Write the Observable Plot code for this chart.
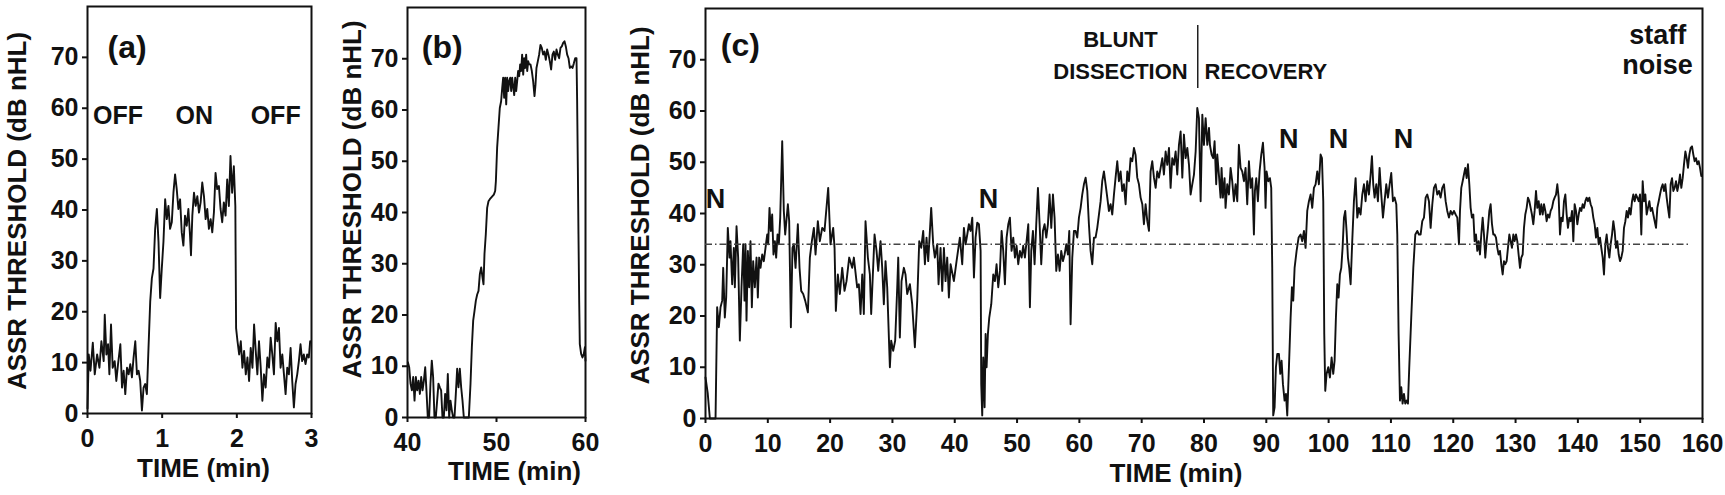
<!DOCTYPE html>
<html>
<head>
<meta charset="utf-8">
<script src="https://cdn.jsdelivr.net/npm/d3@7"></script>
<script src="https://cdn.jsdelivr.net/npm/@observablehq/plot@0.6"></script>
<style>
  html, body { margin: 0; padding: 0; background: #fff; }
  #chart { position: relative; width: 1725px; height: 495px; background: #fff; overflow: hidden; }
  #chart svg { position: absolute; top: 0; }
</style>
</head>
<body>
<div id="chart"></div>
<script>
// ---------- DATA ----------
const yTicks = [0, 10, 20, 30, 40, 50, 60, 70];
const aTicks = [0, 1, 2, 3];
const bTicks = [40, 50, 60];
const cTicks = [0, 10, 20, 30, 40, 50, 60, 70, 80, 90, 100, 110, 120, 130, 140, 150, 160];

// (a) anaesthesia OFF / ON / OFF
const aTime = [0,0.017,0.040,0.071,0.097,0.129,0.160,0.186,0.217,0.231,0.253,0.275,0.293,0.315,0.337,0.364,0.386,0.409,0.440,0.462,0.484,0.506,0.529,0.551,0.573,0.595,0.617,0.640,0.662,0.684,0.706,0.729,0.751,0.773,0.795,0.817,0.840,0.862,0.884,0.906,0.929,0.951,0.973,0.995,1.017,1.040,1.062,1.084,1.106,1.129,1.151,1.173,1.195,1.217,1.240,1.262,1.284,1.306,1.329,1.351,1.373,1.386,1.404,1.426,1.449,1.471,1.493,1.515,1.537,1.560,1.582,1.604,1.626,1.649,1.671,1.693,1.715,1.737,1.760,1.782,1.804,1.826,1.849,1.871,1.893,1.915,1.937,1.960,1.980,1.990,2.009,2.031,2.053,2.075,2.097,2.120,2.142,2.164,2.186,2.209,2.231,2.253,2.275,2.297,2.320,2.342,2.364,2.386,2.409,2.431,2.453,2.475,2.497,2.520,2.542,2.564,2.586,2.609,2.631,2.653,2.675,2.697,2.720,2.742,2.764,2.786,2.809,2.831,2.853,2.875,2.897,2.920,2.942,2.964,2.982];
const aThreshold = [1,11.6,8.4,13.9,7.7,11.6,9,14.2,10.3,19.4,11.6,13.6,7.7,17.5,9,10.3,6.4,9.7,13.6,5.1,8.4,3.8,9,7.7,9.7,7.1,11,14.2,7.7,8.4,6.4,0.6,5.1,5.8,3.8,12.9,22,26.6,28.5,36.3,40.2,33.7,22.7,28.5,33.7,42.1,38.2,40.8,36.3,37.6,43.4,47,44.1,40.2,42.1,35.6,33,38.9,36.9,40.2,35,31.1,38.9,43.4,40.8,42.7,39.5,41.5,45.4,42.7,38.2,40.2,36.3,38.2,35.6,39.5,47.3,44.1,44.7,40.2,37.6,41.5,38.9,46,40.8,50.6,43.4,48.6,40.8,16.8,14.2,11.6,14.2,9,12.3,7.7,11,6.4,12.9,9,17.5,12.3,7.7,14.2,9,2.5,7.7,5.1,11,9,14.9,11.6,7.7,17.8,14.2,16.8,9,11.6,7.7,3.8,9,7.7,12.9,6.4,1.2,5.8,7.7,10.3,13.6,10.3,11.6,9.7,11.6,11,14.2];
const aNotes = ["OFF", "ON", "OFF"];
const aNoteTime = [0.41, 1.43, 2.52];
const aNoteLevel = [58.4, 58.4, 58.4];

// (b)
const bTime = [40.04,40.19,40.34,40.49,40.64,40.79,40.94,41.09,41.24,41.39,41.54,41.69,41.84,41.99,42.13,42.28,42.43,42.58,42.73,42.88,43.03,43.18,43.33,43.48,43.63,43.78,43.93,44.08,44.23,44.38,44.53,44.68,44.83,44.98,45.13,45.28,45.43,45.58,45.73,45.88,46.03,46.18,46.33,46.52,46.70,46.89,47.08,47.23,47.38,47.53,47.68,47.83,47.98,48.13,48.28,48.43,48.54,48.65,48.80,48.95,49.10,49.25,49.40,49.55,49.70,49.85,49.93,50.07,50.22,50.37,50.52,50.64,50.75,50.86,50.97,51.09,51.20,51.31,51.42,51.54,51.65,51.76,51.87,51.99,52.10,52.21,52.32,52.43,52.55,52.66,52.77,52.88,53.00,53.11,53.22,53.33,53.45,53.56,53.67,53.82,53.97,54.12,54.27,54.38,54.49,54.64,54.79,54.94,55.09,55.24,55.39,55.54,55.69,55.84,55.99,56.14,56.29,56.44,56.59,56.74,56.89,57.04,57.19,57.34,57.49,57.64,57.79,57.94,58.09,58.24,58.39,58.54,58.69,58.84,58.99,59.06,59.14,59.21,59.29,59.36,59.51,59.66,59.81,59.93,60.0];
const bThreshold = [10.8,9.8,6.6,5.3,7.9,3.3,7.9,5.3,7.2,4.6,7.9,5.3,7.2,9.8,5.3,0,0,6.6,11.1,7.9,0,0,3.3,6.6,5.9,5.3,0,0,4.6,1.4,8.5,0,3.3,1.4,0,0,4.6,9.5,5.9,9.5,5.9,3.3,0,0,0,0,6.6,13.7,18.9,20.8,22.8,24,24.7,28,29.3,27.3,26,31.9,35.8,40.9,42.2,42.6,42.9,43.2,43.5,44.2,46.1,52.6,56.5,60.4,61.7,64.3,66.3,62.4,66.3,61.1,66.3,63.7,65.6,66.3,63.7,66.3,64.6,62.9,66.3,63.7,65.6,67.6,66.6,68.9,67.6,70.8,66.9,70.1,68.2,70.8,67.6,69.5,68.9,68.9,67.6,65.6,62.7,64.9,68.2,69.5,70.8,72.7,72.1,70.8,71.4,69.8,71.8,70.8,69.5,67.9,70.8,71.4,69.8,71.8,70.8,70.1,72.1,72.4,73.1,73.4,72.4,70.8,70.1,68.2,68.5,68.2,69.1,70.1,70.1,61.7,48.7,35.8,22.8,14.3,12.4,11.7,12.4,13.7,11.1];

// (c)
const cTime = [0,0.35,0.70,1.61,1.87,2.14,2.41,2.68,2.84,3.10,3.32,3.58,3.85,4.01,4.28,4.55,4.71,4.98,5.24,5.51,5.78,6.05,6.26,6.42,6.58,6.80,7.01,7.22,7.44,7.65,7.92,8.19,8.40,8.61,8.83,9.10,9.36,9.63,9.90,10.06,10.27,10.49,10.70,10.91,11.13,11.34,11.56,11.77,11.99,12.31,12.57,12.79,13.22,13.43,13.70,13.96,14.18,14.45,14.82,15.09,15.36,15.68,16.00,16.43,16.75,17.07,17.39,17.66,18.03,18.35,18.73,19.10,19.69,20.06,20.49,20.71,20.92,21.24,21.56,21.94,22.31,22.63,23.06,23.54,23.81,24.34,24.61,24.88,25.15,25.41,25.68,26.06,26.38,26.59,27.13,27.45,27.72,28.09,28.36,28.62,28.89,29.16,29.59,29.80,30.12,30.44,30.77,30.93,31.19,31.46,31.83,32.10,32.37,32.80,33.17,33.60,33.98,34.30,34.62,34.94,35.21,35.47,35.74,36.22,36.54,36.81,37.19,37.40,37.72,37.99,38.26,38.52,38.79,39.06,39.33,39.86,40.29,40.82,
41.20,41.47,41.74,42.01,42.27,42.54,42.81,43.08,43.34,43.61,43.88,44.15,44.25,44.41,44.57,44.79,44.95,45.11,45.32,45.54,45.86,46.18,46.45,46.71,46.98,47.25,47.52,47.78,48.05,48.32,48.59,48.85,49.12,49.39,49.66,49.92,50.19,50.46,50.73,50.99,51.26,51.53,51.80,52.06,52.28,52.55,52.81,53.08,53.35,53.62,53.88,54.15,54.42,54.69,54.95,55.22,55.49,55.76,56.02,56.29,56.56,56.83,57.09,57.36,57.63,57.90,58.16,58.38,58.59,58.86,59.13,59.39,59.66,59.93,60.20,60.46,60.73,61.00,61.27,61.53,61.80,62.07,62.34,62.60,62.87,63.14,63.41,63.67,63.94,64.21,64.48,64.74,65.01,65.28,65.55,65.81,66.08,66.35,66.62,66.88,67.15,67.42,67.69,67.95,68.22,68.49,68.76,69.02,69.29,69.56,69.83,70.10,70.36,70.63,70.90,71.17,71.43,71.70,71.97,72.24,72.50,72.77,73.04,73.31,73.57,73.84,74.11,74.38,74.64,74.91,75.18,75.45,75.71,75.98,76.25,76.52,76.78,77.05,77.32,77.59,77.85,78.12,78.39,78.66,78.92,79.19,79.46,79.73,79.99,80.26,80.53,80.80,
80.95,81.22,81.48,81.70,81.96,82.13,82.39,82.66,82.82,83.03,83.30,83.46,83.73,84.00,84.27,84.53,84.80,85.07,85.34,85.60,85.87,86.14,86.41,86.67,86.94,87.21,87.48,87.74,88.01,88.17,88.39,88.65,88.92,89.19,89.46,89.72,89.88,90.04,90.31,90.58,90.79,90.95,91.11,91.33,91.54,91.76,92.02,92.24,92.45,92.67,92.93,93.15,93.36,93.63,93.90,94.11,94.32,94.54,94.86,95.18,95.50,95.77,96.04,96.30,96.57,96.84,97.11,97.37,97.64,97.91,98.18,98.44,98.71,98.93,99.14,99.30,99.46,99.67,99.94,100.21,100.48,100.74,100.96,101.17,101.39,101.60,101.81,102.03,102.24,102.46,102.67,102.88,103.10,103.31,103.53,103.79,104.06,104.33,104.60,104.86,105.13,105.40,105.67,105.93,106.20,106.47,106.74,106.95,107.16,107.38,107.65,107.91,108.18,108.45,108.72,108.98,109.25,109.52,109.79,110.05,110.32,110.59,110.86,111.02,111.23,111.45,111.66,111.87,112.09,112.30,112.52,112.73,112.94,113.26,113.59,113.91,114.23,114.49,114.76,115.03,115.30,115.57,115.83,116.10,116.37,116.64,116.90,117.17,117.44,117.71,117.97,118.24,118.51,118.78,119.04,119.31,119.58,119.85,120.11,120.38,120.65,120.92,
121.08,121.29,121.51,121.72,121.93,122.15,122.36,122.58,122.79,123.00,123.22,123.43,123.65,123.86,124.07,124.29,124.50,124.72,124.93,125.14,125.36,125.57,125.79,126.00,126.21,126.43,126.64,126.86,127.07,127.28,127.50,127.71,127.93,128.14,128.35,128.57,128.78,129.00,129.21,129.42,129.64,129.85,130.07,130.28,130.49,130.71,130.92,131.14,131.35,131.56,131.78,131.99,132.21,132.42,132.63,132.85,133.06,133.28,133.49,133.71,133.92,134.13,134.35,134.56,134.78,134.99,135.20,135.42,135.63,135.85,136.06,136.27,136.49,136.70,136.92,137.13,137.34,137.56,137.77,137.99,138.20,138.41,138.63,138.84,139.06,139.27,139.48,139.70,139.91,140.13,140.34,140.55,140.77,140.98,141.20,141.41,141.62,141.84,142.05,142.27,142.48,142.69,142.91,143.12,143.34,143.55,143.76,143.98,144.19,144.41,144.62,144.83,145.05,145.26,145.48,145.69,145.90,146.12,146.33,146.55,146.76,146.97,147.19,147.40,147.62,147.83,148.04,148.26,148.47,148.69,148.90,149.11,149.33,149.54,149.76,149.97,150.18,150.40,150.61,150.83,151.04,151.25,151.47,151.68,151.90,152.11,152.32,152.54,152.75,152.97,153.18,153.40,153.61,153.82,154.04,154.25,154.46,154.68,154.89,155.11,155.32,155.53,155.75,155.96,156.18,156.39,156.60,156.82,157.03,157.25,157.46,157.67,157.89,158.10,158.32,158.53,158.74,158.96,159.17,159.39,159.60,159.81];
const cThreshold = [8,5,0,0,21.7,17.8,21.7,23,29.4,19.7,23.6,37.2,31.4,34.6,26.2,33.3,25.6,37.5,31.4,15.2,25.6,34,23,34,19.1,32.7,25.6,34.6,21.7,30.7,25.6,31.4,23.6,31.4,29.4,32,30.7,33.3,35.9,34,41.1,36.6,39.8,32,34.6,31.4,35.9,34,39.2,54.1,40.5,35.9,41.8,38.5,17.8,33.3,34,29.4,37.9,29.4,24.9,24.3,23,20.7,31.4,34.6,37.2,32,38.5,34.6,37.2,36.6,45,34,37.2,33.3,21,28.1,24.3,29.4,24.9,26.8,31.4,29.4,31.4,25.6,26.2,20.4,28.1,20.4,38.5,31.4,28.1,20.4,35.9,32.7,28.8,34.6,29.4,22.3,30.7,25.6,10,15.2,13.2,15.2,25.6,31.4,15.8,26.8,29.4,28.1,24.3,26.2,22.3,13.9,23,34.6,33.3,36.6,30.1,35.3,30.7,41.1,34,31.4,34,26.2,33.3,24.9,33.3,26.8,31.4,23.6,30.1,26.8,30.7,35.3,
30.1,37.2,34,35.9,37.9,36.6,39.2,27.5,35.3,38.2,37.9,32.7,6.7,0.6,11.9,2.2,16.5,10,16.5,19.7,22.3,28.1,26.8,30.1,25.6,28.8,36.6,32.7,26.2,35.3,37.9,39.2,32.7,35.3,31.4,33.7,30.1,32.7,31.4,33.7,31.4,34.6,37.9,21.7,32.7,36.6,30.1,37.9,45,37.9,30.1,36.6,37.9,35.3,37.9,43.7,37.2,43.7,39.2,28.8,32,28.8,32.7,30.7,32,34,32,36.6,18.4,31.4,36.6,36.6,35.3,39.2,41.1,43.7,45.7,47,44.4,37.9,32.7,30.1,35.3,35.3,37.2,39.8,42.4,46.3,48.2,45.7,43.1,40.5,41.8,39.8,43.7,47,50.2,46.3,48.2,44.4,45.7,41.8,48.2,46.3,50.8,50.2,52.8,51.4,47,45.7,43.1,41.8,37.9,41.8,38.5,36.6,48.2,50.2,47,45,48.2,47,48.9,50.8,47.6,52.1,49.5,52.8,45,50.8,49.5,52.1,47.6,53.4,56,47,55.4,50.8,52.8,49.5,43.7,45.7,47.6,52.1,60.6,58.6,42.4,59.3,53.4,58.6,53.4,56.7,
53.4,51.5,50.8,54.1,45.7,51.5,47.6,43.1,48.9,43.1,46.9,41.1,45.7,43.7,48.9,46.3,42.4,45.7,42.4,53.4,48.9,48.2,46.3,48.9,41.8,50.2,45,46.9,35.9,44.4,46.9,42.4,48.2,51.5,53.8,48.9,41.1,48.2,46.3,46.9,45,29.4,0.6,2.2,10,12.6,12.6,8.7,11.3,6.7,3.5,4.8,0.6,10,19.7,25.6,23,29.4,32.7,35.3,35.9,34.6,36.6,33.3,40.5,42.4,43.7,41.1,45,45.7,48.2,45.7,51.5,50.8,42.4,16.5,5.4,8.7,10,8,11.9,8.7,11.3,19.7,26.2,23.6,28.1,29.4,33.3,39.2,40.5,36.6,31.4,29.4,26.2,34.6,42.4,46.9,39.2,41.1,39.8,43.7,45.7,42.4,46.3,43.7,47.6,51.2,45.7,43.1,45.7,42.4,48.9,43.7,39.2,42.4,45.7,43.1,45.7,47.9,42.4,43.1,41.8,35.9,16.5,3.5,6.1,2.9,4.8,2.9,3.5,2.9,10,19.7,29.4,35.9,36.6,35.9,35.9,38.5,39.2,43.1,43.7,42.4,37.2,41.8,45,45.7,43.7,44.4,43.1,45,45.7,42.4,40.5,39.2,40.5,39.8,40.5,39.8,39.2,34,
40.5,45,46.3,47.6,48.9,46.9,49.6,45.7,41.1,39.2,39.8,34.6,35.9,32.7,34.6,32,35.9,39.2,35.9,31.4,34.6,37.2,40.5,41.8,38,35.9,35.9,35.3,33.3,32,32.7,30.1,28.1,30.7,30.1,30.7,33.3,35.9,34.6,33.3,35.9,34.6,35.9,34.6,32,29.4,31.4,32,37.2,39.8,41.1,43.1,42.4,41.1,39.8,37.9,40.5,44.4,41.1,42.4,39.8,41.8,39.8,41.8,40.5,38.5,39.8,39.2,40.5,41.1,42.4,43.1,43.7,45.7,43.1,35.9,39.2,38.5,42.4,43.7,39.8,37.2,39.2,38.5,40.5,34.6,41.8,40.5,37.9,39.8,41.1,40.5,41.8,41.1,42.4,43.1,42.4,43.1,41.8,41.1,39.2,37.9,35.3,37.2,34,35.3,33.3,31.4,28.1,34,35.9,33.3,31.4,34,35.9,38.5,36.6,33.3,34.6,32,30.7,31.4,32.7,37.2,38.5,40.5,39.2,41.1,39.8,42.4,43.7,42.4,43.7,43.1,42.4,43.7,35.9,46.3,42.4,43.7,39.8,41.1,42.4,40.5,41.1,39.8,38.5,37.2,41.1,42.4,43.7,45,45.7,44.4,45.7,43.1,41.1,39.2,45.7,46.9,44.4,45,46.3,44.4,45.7,47.6,45,46.9,49.6,52.1,50.8,48.9,51.5,52.8,53.1,51.5,50.2,50.8,49.6,50.2,48.9,47.3];

const cBaseline = 34;          // dash-dot reference level (dB nHL)
const cBaselineEnd = 158;      // min
const nTimes = [1.6, 45.4, 93.6, 101.6, 112.0];
const nLevels = [42.7, 42.7, 54.4, 54.4, 54.4];
const phaseLeft = ["BLUNT", "DISSECTION"];
const phaseLeftTime = 66.6;
const phaseLeftLevels = [73.8, 67.6];
const phaseRight = "RECOVERY";
const phaseRightTime = 80.1;
const phaseRightLevel = 67.6;
const phaseBoundary = 79;
const phaseBoundaryLevels = [64.4, 76.7];
const staffNotes = ["staff", "noise"];
const staffTime = 152.8;
const staffLevels = [74.7, 68.9];

const yTitle = "ASSR THRESHOLD (dB nHL)";
const xTitle = "TIME (min)";

// ---------- DRAWING ----------
const FONT = "'Liberation Sans', Arial, Helvetica, sans-serif";
const INK = "#111";

function zip(t, v) { return t.map((d, i) => ({time: d, level: v[i]})); }

function panel(o) {
  const marks = [
    Plot.line(zip(o.time, o.value), {x: "time", y: "level", stroke: INK, strokeWidth: 1.9, strokeLinejoin: "round"}),
    Plot.frame({stroke: INK, strokeWidth: 2}),
    Plot.axisY(yTicks, {tickSize: 5, tickPadding: 4, fontSize: 25, fontWeight: "bold", label: null, stroke: INK, strokeWidth: 2, fill: INK}),
    Plot.axisX(o.xTicks, {tickSize: 5, tickPadding: 11, fontSize: 25, fontWeight: "bold", label: null, stroke: INK, strokeWidth: 2, fill: INK}),
    Plot.text([yTitle], {frameAnchor: "left", textAnchor: "middle", lineAnchor: "middle", rotate: -90, dx: o.yTitleDx, dy: o.yTitleDy, fontSize: 26, fontWeight: "bold", fill: INK}),
    Plot.text([xTitle], {frameAnchor: "bottom", textAnchor: "middle", lineAnchor: "middle", dx: o.xTitleDx, dy: o.xTitleDy, fontSize: 26, fontWeight: "bold", fill: INK}),
    Plot.text([o.tag], {x: () => o.tagTime, y: () => o.tagLevel, fontSize: 32, fontWeight: "bold", fill: INK}),
    ...(o.extra || [])
  ];
  const svg = Plot.plot({
    width: o.width, height: 495,
    marginLeft: o.ml, marginRight: o.mr, marginTop: o.mt, marginBottom: o.mb,
    x: {domain: o.xDomain},
    y: {domain: [0, 80]},
    style: {fontFamily: FONT, color: INK, background: "transparent", overflow: "visible"},
    marks
  });
  svg.style.left = o.left + "px";
  document.getElementById("chart").appendChild(svg);
}

// (a)
panel({
  time: aTime, value: aThreshold, xDomain: [0, 3], xTicks: aTicks,
  left: 0, width: 330, ml: 87, mr: 19, mt: 6, mb: 82,
  yTitleDx: -70, yTitleDy: 1, xTitleDx: 4, xTitleDy: 55,
  tag: "(a)", tagTime: 0.53, tagLevel: 71.9,
  extra: [
    Plot.text(aNotes, {x: (d, i) => aNoteTime[i], y: (d, i) => aNoteLevel[i], text: d => d, fontSize: 25, fontWeight: "bold", fill: INK})
  ]
});

// (b)
panel({
  time: bTime, value: bThreshold, xDomain: [40, 60], xTicks: bTicks,
  left: 330, width: 270, ml: 77, mr: 15, mt: 7, mb: 78,
  yTitleDx: -55, yTitleDy: -13, xTitleDx: 18, xTitleDy: 54,
  tag: "(b)", tagTime: 43.9, tagLevel: 72.2
});

// (c)
panel({
  time: cTime, value: cThreshold, xDomain: [0, 160], xTicks: cTicks,
  left: 600, width: 1125, ml: 105, mr: 23, mt: 8, mb: 77,
  yTitleDx: -65, yTitleDy: -8, xTitleDx: -28, xTitleDy: 55,
  tag: "(c)", tagTime: 5.6, tagLevel: 72.8,
  extra: [
    Plot.ruleY([cBaseline], {x1: 0, x2: cBaselineEnd, stroke: "#444", strokeWidth: 1.4, strokeDasharray: "7,3,1.5,3"}),
    Plot.text(nTimes, {x: d => d, y: (d, i) => nLevels[i], text: () => "N", fontSize: 27, fontWeight: "bold", fill: INK}),
    Plot.text(phaseLeft, {x: () => phaseLeftTime, y: (d, i) => phaseLeftLevels[i], text: d => d, fontSize: 22, fontWeight: "bold", fill: INK}),
    Plot.text([phaseRight], {x: () => phaseRightTime, y: () => phaseRightLevel, text: d => d, fontSize: 22, fontWeight: "bold", textAnchor: "start", fill: INK}),
    Plot.ruleX([phaseBoundary], {y1: phaseBoundaryLevels[0], y2: phaseBoundaryLevels[1], stroke: INK, strokeWidth: 1.4}),
    Plot.text(staffNotes, {x: () => staffTime, y: (d, i) => staffLevels[i], text: d => d, fontSize: 27, fontWeight: "bold", fill: INK})
  ]
});
</script>
</body>
</html>
